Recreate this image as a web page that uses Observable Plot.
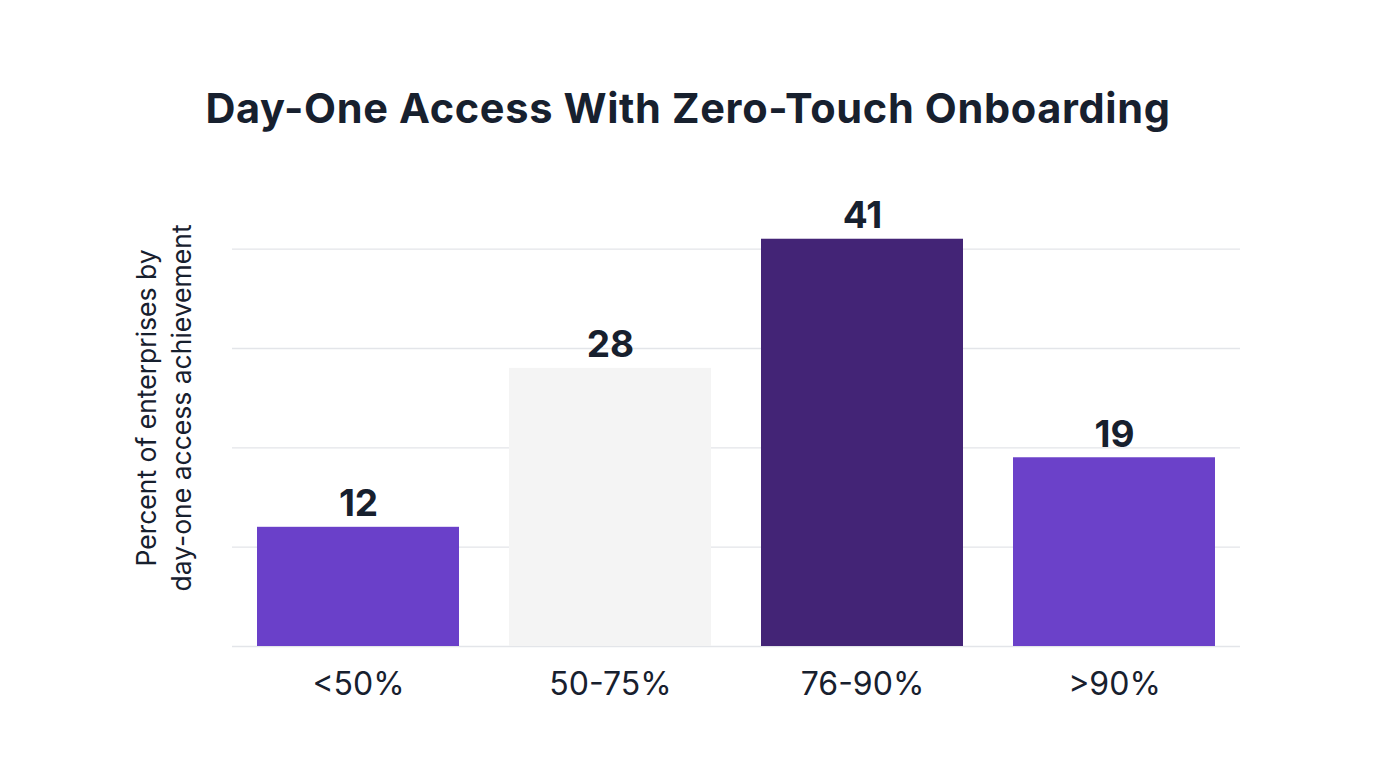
<!DOCTYPE html>
<html>
<head>
<meta charset="utf-8">
<script src="https://cdn.jsdelivr.net/npm/d3@7"></script>
<script src="https://cdn.jsdelivr.net/npm/@observablehq/plot@0.6"></script>
<style>
  html, body { margin: 0; padding: 0; background: #ffffff; }
  body { width: 1376px; height: 768px; overflow: hidden; font-family: Inter, "Noto Sans", sans-serif; }
  #title {
    height: 170px; box-sizing: border-box; padding-top: 88px;
    text-align: center; font-size: 41.5px; font-weight: 700; color: #17202e;
    letter-spacing: 0.65px; line-height: 1;
  }
  #chart svg { display: block; }
</style>
</head>
<body>
<div id="title">Day-One Access With Zero-Touch Onboarding</div>
<div id="chart"></div>
<script>
// Share of enterprises by how much day-one access they achieve
const categories = ["<50%", "50-75%", "76-90%", ">90%"];
const values = [12, 28, 41, 19];
const barColors = ["#6a40c9", "#f4f4f4", "#432476", "#6b41c9"];
const gridTicks = [0, 10, 20, 30, 40];
const yLabel = "Percent of enterprises by\nday-one access achievement";

const data = categories.map((c, i) => ({category: c, value: values[i], color: barColors[i]}));

const chart = Plot.plot({
  width: 1376,
  height: 560,
  marginTop: 29,
  marginBottom: 84,
  marginLeft: 232,
  marginRight: 136,
  style: {fontFamily: "Inter, 'Noto Sans', sans-serif", color: "#17202e", background: "#ffffff"},
  x: {domain: categories, paddingInner: 0.2, paddingOuter: 0.1, label: null},
  y: {domain: [0, 45], axis: null},
  marks: [
    Plot.ruleY(gridTicks, {stroke: "#e3e5e9", strokeWidth: 1.3}),
    Plot.barY(data, {x: "category", y: "value", fill: "color"}),
    Plot.text(data, {
      x: "category", y: "value", text: d => String(d.value),
      lineAnchor: "bottom", dy: -11, fontSize: 37, fontWeight: 700, fill: "#17202e"
    }),
    Plot.axisX({tickSize: 0, tickPadding: 26, fontSize: 32, fill: "#17202e", label: null}),
    Plot.text([yLabel], {
      frameAnchor: "left", dx: -70, dy: -15, rotate: -90,
      textAnchor: "middle", fontSize: 26.5, lineHeight: 1.32, fill: "#17202e"
    })
  ]
});
document.getElementById("chart").appendChild(chart);
</script>
</body>
</html>
